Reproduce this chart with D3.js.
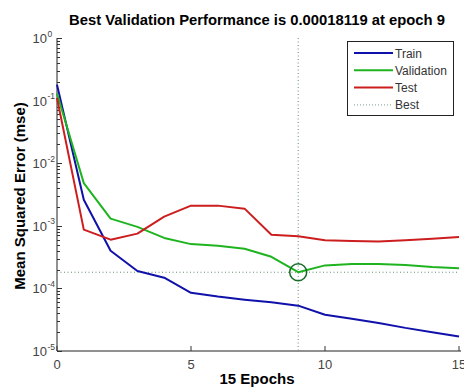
<!DOCTYPE html>
<html>
<head>
<meta charset="utf-8">
<script src="https://cdn.jsdelivr.net/npm/d3@7"></script>
<style>
    body { margin: 0; background: #fff; }
    text { font-family: "Liberation Sans", Arial, sans-serif; }
</style>
</head>
<body>
<div id="chart"></div>
<script>
var epochs = [0, 1, 2, 3, 4, 5, 6, 7, 8, 9, 10, 11, 12, 13, 14, 15];
var train = [0.18, 0.0026, 0.0004, 0.00019, 0.000148, 8.5e-5, 7.4e-5, 6.6e-5, 6.0e-5, 5.3e-5, 3.8e-5, 3.27e-5, 2.8e-5, 2.34e-5, 2.0e-5, 1.7e-5];
var validation = [0.13, 0.0048, 0.0013, 0.00096, 0.00064, 0.00051, 0.00048, 0.00043, 0.00032, 0.00018119, 0.000233, 0.000245, 0.000245, 0.000236, 0.00022, 0.00021];
var test = [0.11, 0.00087, 0.0006, 0.00075, 0.0014, 0.0021, 0.0021, 0.00188, 0.00072, 0.00068, 0.00059, 0.00057, 0.00056, 0.00059, 0.00062, 0.00066];
var seriesNames = ["Train", "Validation", "Test"];
var bestEpoch = 9;
var bestValue = 0.00018119;
var xTicks = [0, 5, 10, 15];
var yExponents = [0, -1, -2, -3, -4, -5];

var width = 464, height = 387;
var plot = {left: 57, right: 459, top: 38, bottom: 351};

var svg = d3.select("#chart")
    .append("svg")
        .attr("width", width)
        .attr("height", height);

var x = d3.scaleLinear().domain([0, 15]).range([plot.left, plot.right]);
var y = d3.scaleLog().domain([1e-5, 1]).range([plot.bottom, plot.top]);

var colors = ["#1010aa", "#1fb41f", "#cc1e1e"];
var seriesData = [train, validation, test];

// axes, matlab style: ticks point inward
svg.append("line")
    .attr("x1", plot.left).attr("x2", plot.left)
    .attr("y1", plot.top).attr("y2", plot.bottom)
    .attr("stroke", "#222").attr("stroke-width", 1);
svg.append("line")
    .attr("x1", plot.left).attr("x2", plot.right + 2)
    .attr("y1", plot.bottom).attr("y2", plot.bottom)
    .attr("stroke", "#222").attr("stroke-width", 1);

var minor = [];
yExponents.forEach(function(e) {
    if (e === 0) return;
    for (var k = 2; k <= 9; k++) minor.push(k * Math.pow(10, e));
});

svg.selectAll(".ymin")
    .data(minor)
    .enter()
    .append("line")
        .attr("x1", plot.left).attr("x2", plot.left + 3)
        .attr("y1", function(d) { return Math.round(y(d)) + 0.5; })
        .attr("y2", function(d) { return Math.round(y(d)) + 0.5; })
        .attr("stroke", "#333");

svg.selectAll(".ymaj")
    .data(yExponents)
    .enter()
    .append("line")
        .attr("x1", plot.left).attr("x2", plot.left + 5)
        .attr("y1", function(d) { return Math.round(y(Math.pow(10, d))) + 0.5; })
        .attr("y2", function(d) { return Math.round(y(Math.pow(10, d))) + 0.5; })
        .attr("stroke", "#333");

svg.selectAll(".ylab")
    .data(yExponents)
    .enter()
    .append("text")
        .attr("x", 47)
        .attr("y", function(d) { return y(Math.pow(10, d)) + 5; })
        .attr("text-anchor", "end")
        .attr("font-size", 13)
        .attr("fill", "#444")
        .text("10");

svg.selectAll(".yexp")
    .data(yExponents)
    .enter()
    .append("text")
        .attr("x", 47.5)
        .attr("y", function(d) { return y(Math.pow(10, d)) - 1.5; })
        .attr("font-size", 8.5)
        .attr("fill", "#444")
        .text(function(d) { return d === 0 ? "0" : "-" + (-d); });

svg.selectAll(".xtick")
    .data(xTicks)
    .enter()
    .append("line")
        .attr("x1", function(d) { return x(d); })
        .attr("x2", function(d) { return x(d); })
        .attr("y1", plot.bottom).attr("y2", plot.bottom - 5)
        .attr("stroke", "#333");

svg.selectAll(".xlab")
    .data(xTicks)
    .enter()
    .append("text")
        .attr("x", function(d) { return x(d); })
        .attr("y", 369)
        .attr("text-anchor", "middle")
        .attr("font-size", 13)
        .attr("fill", "#444")
        .text(function(d) { return d; });

// best markers
svg.append("line")
    .attr("x1", x(bestEpoch)).attr("x2", x(bestEpoch))
    .attr("y1", plot.top).attr("y2", plot.bottom)
    .attr("stroke", "#5e8e6e").attr("stroke-width", 1)
    .attr("stroke-dasharray", "1,2.5");
svg.append("line")
    .attr("x1", plot.left).attr("x2", plot.right)
    .attr("y1", y(bestValue)).attr("y2", y(bestValue))
    .attr("stroke", "#5e8e6e").attr("stroke-width", 1)
    .attr("stroke-dasharray", "1,2.5");

var line = d3.line()
    .x(function(d, i) { return x(epochs[i]); })
    .y(function(d) { return y(d); });

svg.selectAll(".series")
    .data(seriesData)
    .enter()
    .append("path")
        .attr("d", function(d) { return line(d); })
        .attr("stroke", function(d, i) { return colors[i]; })
        .attr("stroke-width", 2)
        .attr("stroke-linejoin", "round")
        .attr("fill", "none");

svg.append("circle")
    .attr("cx", x(bestEpoch))
    .attr("cy", y(bestValue))
    .attr("r", 8.5)
    .attr("fill", "none")
    .attr("stroke", "#1a6a2a")
    .attr("stroke-width", 1.5);

// legend
var lg = svg.append("g");
lg.append("rect")
    .attr("x", 347.5).attr("y", 41.5)
    .attr("width", 106).attr("height", 74)
    .attr("fill", "#fff")
    .attr("stroke", "#222");

var legendItems = seriesNames.concat(["Best"]);
legendItems.forEach(function(name, i) {
    var ly = 53 + i * 17.3;
    lg.append("line")
        .attr("x1", 354).attr("x2", 393)
        .attr("y1", ly).attr("y2", ly)
        .attr("stroke", i < 3 ? colors[i] : "#7aa08a")
        .attr("stroke-width", i < 3 ? 2 : 1)
        .attr("stroke-dasharray", i < 3 ? null : "1,2");
    lg.append("text")
        .attr("x", 395)
        .attr("y", ly + 4.5)
        .attr("font-size", 12)
        .attr("fill", "#333")
        .text(name);
});

// titles
svg.append("text")
    .attr("x", 257).attr("y", 25)
    .attr("text-anchor", "middle")
    .attr("font-size", 14.8)
    .attr("font-weight", "bold")
    .text("Best Validation Performance is 0.00018119 at epoch 9");

svg.append("text")
    .attr("x", 257).attr("y", 384)
    .attr("text-anchor", "middle")
    .attr("font-size", 15)
    .attr("font-weight", "bold")
    .text("15 Epochs");

svg.append("text")
    .attr("transform", "translate(25,196) rotate(-90)")
    .attr("text-anchor", "middle")
    .attr("font-size", 15)
    .attr("font-weight", "bold")
    .text("Mean Squared Error  (mse)");
</script>
</body>
</html>
